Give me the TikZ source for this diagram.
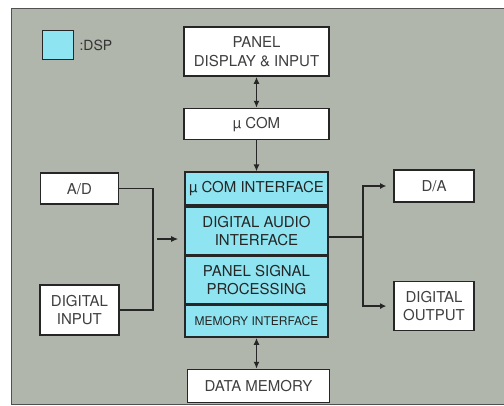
\documentclass[tikz,border=0pt]{standalone}
\usepackage{fontspec}
\setmainfont{TeX Gyre Heros}
\usepackage{xcolor}
\usepackage{tikz}
\usetikzlibrary{arrows.meta, positioning}

\definecolor{panelbg}{HTML}{B0B6AB}
\definecolor{dspcyan}{HTML}{8EE4F0}
\definecolor{ink}{HTML}{262626}

\begin{document}
\begin{tikzpicture}[
  x=1pt, y=-1pt,
  node distance=31pt and 65pt,
  box/.style={draw=ink, line width=1.6pt, fill=white, align=center, inner sep=1pt,
              text=black!75, font=\fontsize{15}{18.5}\selectfont},
  dsp/.style={box, fill=dspcyan, text=black!85, minimum width=143pt},
  ln/.style={draw=ink, line width=1.5pt},
  fl/.style={ln, -{Latex[length=7pt, width=6pt]}},
  bi/.style={ln, {Latex[length=7pt, width=6pt]}-{Latex[length=7pt, width=6pt]}},
  tp/.style={ln, -{Latex[length=6pt, width=6pt]}, shorten >=7pt}
]
\useasboundingbox (0,0) rectangle (504,406);
\filldraw[fill=panelbg, draw=ink!80, line width=1pt] (11,9) rectangle (506,405);

\node[draw=ink, line width=1.8pt, fill=dspcyan, minimum width=31pt, minimum height=29pt, inner sep=0pt] (key) at (58,45) {};
\node[right=5pt of key, inner sep=0pt, text=black!80, font=\fontsize{14}{16}\selectfont] (keytxt) {:DSP};

\node[box, minimum width=145pt, minimum height=49pt] (panel) at (256.5,51.5) {PANEL\\DISPLAY \& INPUT};
\node[box, minimum width=145pt, minimum height=31pt, below=of panel] (mcom) {µ COM};
\node[dsp, minimum height=33pt, below=of mcom] (ci) {µ COM INTERFACE};
\node[dsp, minimum height=48pt, below=0pt of ci] (dai) {DIGITAL AUDIO\\INTERFACE};
\node[dsp, minimum height=47pt, below=0pt of dai] (psp) {PANEL SIGNAL\\PROCESSING};
\node[dsp, minimum height=32pt, below=0pt of psp, font=\fontsize{12}{14}\selectfont] (mi) {MEMORY INTERFACE};
\node[box, minimum width=142pt, minimum height=33pt, below=of mi, xshift=2pt] (dm) {DATA MEMORY};

\node[box, minimum width=78pt, minimum height=31pt, left=of ci] (ad) {A/D};
\node[box, minimum width=79pt, minimum height=50pt, below=79pt of ad] (di) {DIGITAL\\INPUT};
\node[box, minimum width=80pt, minimum height=32pt] (da) at (434,186) {D/A};
\node[box, minimum width=80pt, minimum height=49pt, below=78pt of da] (do) {DIGITAL\\OUTPUT};

\coordinate (lb) at (153,239);
\coordinate (lin) at (157,239);
\coordinate (rb) at (363,237);

\draw[bi] (panel) -- (mcom);
\draw[fl] (mcom) -- (ci);
\draw[bi] (mi) -- (mi |- dm.north);
\draw[ln] (ad.east) -| (lb) |- (di.east);
\draw[fl, line width=1.2pt, shorten >=6pt] (lin) -- (lin -| dai.west);
\draw[ln] (rb -| dai.east) -- (rb);
\draw[tp] (rb) |- (da);
\draw[tp] (rb) |- (do);
\end{tikzpicture}
\end{document}
